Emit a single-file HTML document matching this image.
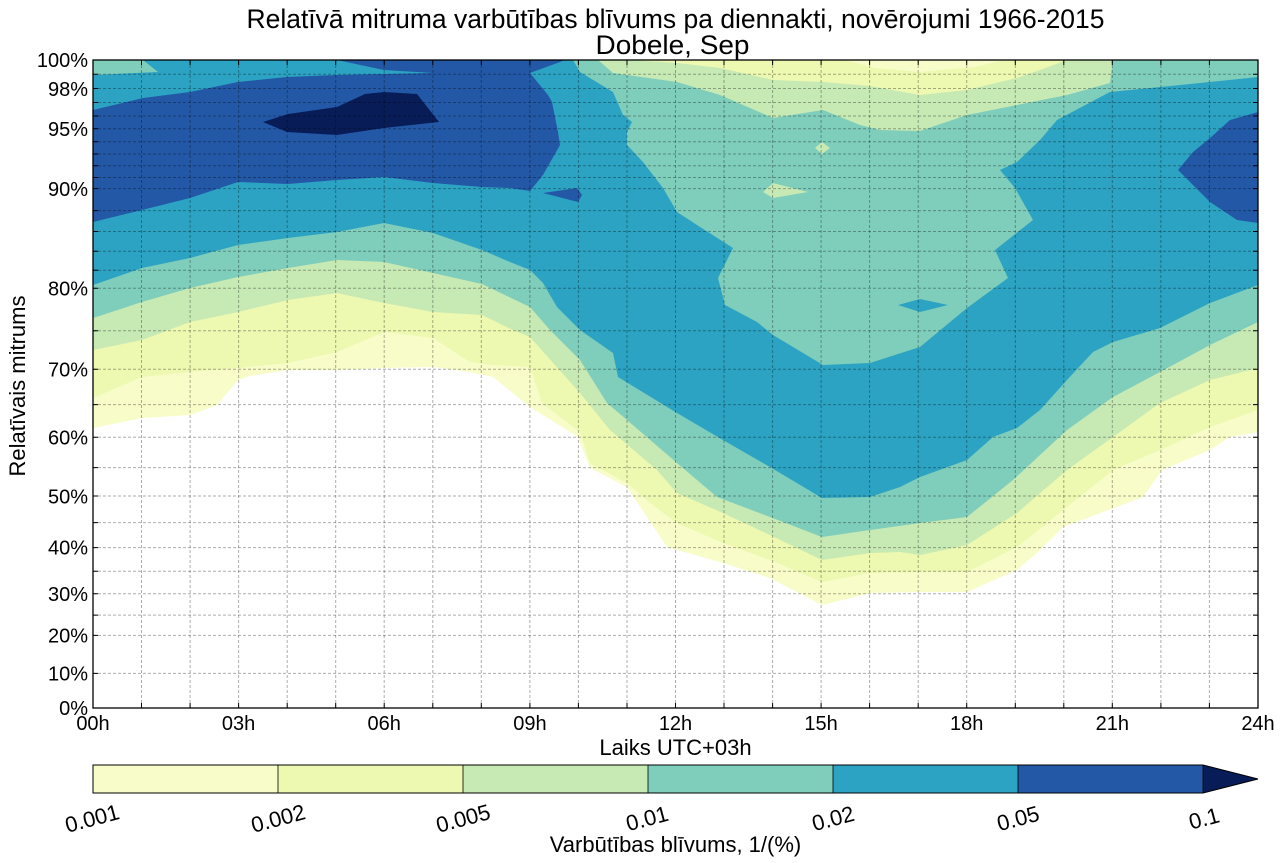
<!DOCTYPE html>
<html>
<head>
<meta charset="utf-8">
<style>
  html,body{margin:0;padding:0;background:#fff;}
  svg{display:block;}
  text{font-family:"Liberation Sans",Arial,sans-serif;fill:#000;}
</style>
</head>
<body>
<svg width="1284" height="863" viewBox="0 0 1284 863" xmlns="http://www.w3.org/2000/svg">
  <defs>
    <clipPath id="pa"><rect x="93" y="60" width="1165" height="648"/></clipPath>
  </defs>
  <rect x="0" y="0" width="1284" height="863" fill="#fff"/>

  <g clip-path="url(#pa)">
    <polygon fill="#f7fcc8" points="93,428 142,418 190,415 217,405 238,380 250,376 288,370 337,370 384,368 433,367 470,372 493,377 530,407 578,437 590,468 627,487 667,547 723,563 770,578 822,605 870,593 920,592 967,592 1017,570 1040,550 1063,527 1143,497 1162,470 1210,450 1230,437 1258,432 1258,60 93,60"/>
    <polygon fill="#edf8b1" points="93,398 142,377 190,372 238,368 288,363 337,352 384,332 433,338 470,362 493,365 530,367 542,403 580,432 590,463 627,483 650,503 677,523 723,543 770,560 822,582 870,573 920,572 967,572 1017,547 1067,507 1113,470 1160,450 1210,427 1258,410 1258,60 93,60"/>
    <polygon fill="#c7e9b4" points="93,350 142,340 190,322 238,312 288,300 337,293 384,303 433,312 482,315 513,330 530,337 580,393 610,430 657,470 677,493 723,513 770,535 822,560 870,553 900,552 920,555 967,545 1017,513 1067,470 1113,437 1160,403 1210,380 1258,368 1258,60 93,60"/>
    <polygon fill="#7fcdbb" points="93,318 142,302 190,288 238,277 288,268 337,260 384,262 433,273 482,284 530,307 550,330 580,360 607,403 627,420 677,463 717,497 770,517 822,537 870,530 920,523 967,517 1013,480 1067,430 1113,397 1160,372 1210,345 1258,322 1258,60 93,60"/>
    <polygon fill="#2ca3c2" points="93,285 142,268 190,258 238,245 288,238 337,232 384,223 433,233 482,250 510,262 530,270 543,283 557,307 580,330 613,353 618,377 677,413 723,440 770,467 822,498 870,497 900,487 920,477 967,460 993,437 1017,428 1040,410 1067,380 1093,352 1113,342 1160,328 1210,303 1258,285 1258,60 93,60"/>
    <polygon fill="#2358a6" points="93,222 142,210 190,198 238,182 288,184 337,180 384,177 433,183 482,187 510,188 530,191 543,175 560,145 558,132 552,102 548,95 530,73 560,62 565,60 93,60"/>
    <polygon fill="#2358a6" points="1178,170 1193,152 1210,138 1230,120 1258,112 1258,223 1237,220 1210,202 1193,185"/>
    <polygon fill="#2358a6" points="543,193 577,188 582,195 578,202"/>
    <polygon fill="#081d58" points="263,122 288,114 337,107 365,94 384,92 417,94 439,122 384,128 337,135 287,132"/>

    <polygon fill="#2ca3c2" points="93,60 337,60 384,70 433,73 384,74 336,75 287,77 238,82 190,92 143,98 93,110"/>
    <polygon fill="#7fcdbb" points="93,60 143,60 158,72 93,75"/>

    <polygon fill="#7fcdbb" points="573,60 580,72 613,92 623,115 632,122 627,132 627,145 643,162 663,188 677,212 697,225 733,248 718,278 725,305 757,322 773,335 823,365 870,363 920,347 967,308 1008,278 995,250 1033,220 1015,188 1000,170 1017,162 1040,140 1057,120 1110,92 1210,82 1258,77 1258,60"/>
    <polygon fill="#2ca3c2" points="898,305 920,299 948,305 920,312"/>
    <polygon fill="#c7e9b4" points="598,60 1113,60 1110,83 1067,95 1017,105 967,115 920,131 880,130 860,125 823,110 773,118 720,95 677,82 613,73"/>
    <polygon fill="#c7e9b4" points="815,148 822,142 830,148 822,154"/>
    <polygon fill="#c7e9b4" points="763,192 773,183 808,192 773,198"/>
    <polygon fill="#edf8b1" points="628,60 1067,60 1040,70 1017,78 967,90 920,95 870,86 823,82 773,80 720,68 677,63"/>
    <polygon fill="#f7fcc8" points="845,60 1005,60 975,67 920,72 875,68"/>

    <g stroke="#000" stroke-opacity="0.32" stroke-width="1" stroke-dasharray="3,2" fill="none">
      <path d="M141.5,60V708M190.1,60V708M238.6,60V708M287.2,60V708M335.7,60V708M384.2,60V708M432.8,60V708M481.3,60V708M529.9,60V708M578.4,60V708M627,60V708M675.5,60V708M724,60V708M772.6,60V708M821.1,60V708M869.6,60V708M918.2,60V708M966.7,60V708M1015.3,60V708M1063.8,60V708M1112.3,60V708M1160.9,60V708M1209.4,60V708"/>
      <path d="M93,74.3H1258M93,88.5H1258M93,102.5H1258M93,116H1258M93,128.8H1258M93,141.7H1258M93,154H1258M93,165.8H1258M93,177.5H1258M93,188.6H1258M93,210.6H1258M93,231.5H1258M93,251.3H1258M93,270.3H1258M93,288.3H1258M93,330.7H1258M93,369.2H1258M93,404.6H1258M93,437.2H1258M93,467.6H1258M93,496H1258M93,522.6H1258M93,547.6H1258M93,571.3H1258M93,593.7H1258M93,615.1H1258M93,635.4H1258M93,673.4H1258"/>
    </g>
  </g>

  <g stroke="#000" stroke-width="1" fill="none">
    <path d="M93,74.3h5M93,88.5h5M93,102.5h5M93,116h5M93,128.8h5M93,141.7h5M93,154h5M93,165.8h5M93,177.5h5M93,188.6h5M93,210.6h5M93,231.5h5M93,251.3h5M93,270.3h5M93,288.3h5M93,330.7h5M93,369.2h5M93,404.6h5M93,437.2h5M93,467.6h5M93,496h5M93,522.6h5M93,547.6h5M93,571.3h5M93,593.7h5M93,615.1h5M93,635.4h5M93,673.4h5"/>
    <path d="M1258,74.3h-5M1258,88.5h-5M1258,102.5h-5M1258,116h-5M1258,128.8h-5M1258,141.7h-5M1258,154h-5M1258,165.8h-5M1258,177.5h-5M1258,188.6h-5M1258,210.6h-5M1258,231.5h-5M1258,251.3h-5M1258,270.3h-5M1258,288.3h-5M1258,330.7h-5M1258,369.2h-5M1258,404.6h-5M1258,437.2h-5M1258,467.6h-5M1258,496h-5M1258,522.6h-5M1258,547.6h-5M1258,571.3h-5M1258,593.7h-5M1258,615.1h-5M1258,635.4h-5M1258,673.4h-5"/>
    <path d="M141.5,60v5M190.1,60v5M238.6,60v5M287.2,60v5M335.7,60v5M384.2,60v5M432.8,60v5M481.3,60v5M529.9,60v5M578.4,60v5M627,60v5M675.5,60v5M724,60v5M772.6,60v5M821.1,60v5M869.6,60v5M918.2,60v5M966.7,60v5M1015.3,60v5M1063.8,60v5M1112.3,60v5M1160.9,60v5M1209.4,60v5"/>
    <path d="M141.5,708v-5M190.1,708v-5M238.6,708v-5M287.2,708v-5M335.7,708v-5M384.2,708v-5M432.8,708v-5M481.3,708v-5M529.9,708v-5M578.4,708v-5M627,708v-5M675.5,708v-5M724,708v-5M772.6,708v-5M821.1,708v-5M869.6,708v-5M918.2,708v-5M966.7,708v-5M1015.3,708v-5M1063.8,708v-5M1112.3,708v-5M1160.9,708v-5M1209.4,708v-5"/>
  </g>
  <rect x="93" y="60" width="1165" height="648" fill="none" stroke="#000" stroke-width="1.3"/>

  <text x="675.5" y="28" font-size="26.5" text-anchor="middle" textLength="858" lengthAdjust="spacingAndGlyphs">Relatīvā mitruma varbūtības blīvums pa diennakti, novērojumi 1966-2015</text>
  <text x="672.5" y="54" font-size="27" text-anchor="middle" textLength="154" lengthAdjust="spacingAndGlyphs">Dobele, Sep</text>

  <g font-size="20" text-anchor="end">
    <text x="88" y="67">100%</text>
    <text x="88" y="96">98%</text>
    <text x="88" y="136">95%</text>
    <text x="88" y="196">90%</text>
    <text x="88" y="295.5">80%</text>
    <text x="88" y="376.5">70%</text>
    <text x="88" y="444.5">60%</text>
    <text x="88" y="503.5">50%</text>
    <text x="88" y="554.5">40%</text>
    <text x="88" y="601">30%</text>
    <text x="88" y="642.5">20%</text>
    <text x="88" y="680.5">10%</text>
    <text x="88" y="715">0%</text>
  </g>

  <g font-size="20" text-anchor="middle">
    <text x="93" y="730">00h</text>
    <text x="238.6" y="730">03h</text>
    <text x="384.2" y="730">06h</text>
    <text x="529.9" y="730">09h</text>
    <text x="675.5" y="730">12h</text>
    <text x="821.1" y="730">15h</text>
    <text x="966.7" y="730">18h</text>
    <text x="1112.3" y="730">21h</text>
    <text x="1258" y="730">24h</text>
  </g>

  <text x="675.5" y="755" font-size="22" text-anchor="middle">Laiks UTC+03h</text>
  <text transform="translate(25,386) rotate(-90)" font-size="22" text-anchor="middle">Relatīvais mitrums</text>

  <rect x="93" y="765" width="185" height="28" fill="#f7fcc8"/>
  <rect x="278" y="765" width="185" height="28" fill="#edf8b1"/>
  <rect x="463" y="765" width="185" height="28" fill="#c7e9b4"/>
  <rect x="648" y="765" width="185" height="28" fill="#7fcdbb"/>
  <rect x="833" y="765" width="185" height="28" fill="#2ca3c2"/>
  <rect x="1018" y="765" width="185" height="28" fill="#2358a6"/>
  <polygon points="1203,765 1258,779 1203,793" fill="#081d58"/>
  <g stroke="#000" stroke-width="0.8">
    <path d="M278,765V793M463,765V793M648,765V793M833,765V793M1018,765V793M1203,765V793"/>
  </g>
  <path d="M93,765H1203L1258,779L1203,793H93Z" fill="none" stroke="#000" stroke-width="1"/>

  <g font-size="22" text-anchor="middle">
    <text x="92" y="826" transform="rotate(-15 92 818)">0.001</text>
    <text x="278" y="826" transform="rotate(-15 278 818)">0.002</text>
    <text x="463" y="826" transform="rotate(-15 463 818)">0.005</text>
    <text x="647" y="826" transform="rotate(-15 647 818)">0.01</text>
    <text x="833" y="826" transform="rotate(-15 833 818)">0.02</text>
    <text x="1018" y="826" transform="rotate(-15 1018 818)">0.05</text>
    <text x="1204" y="826" transform="rotate(-15 1204 818)">0.1</text>
  </g>
  <text x="675.5" y="852" font-size="22" text-anchor="middle">Varbūtības blīvums, 1/(%)</text>
</svg>
</body>
</html>
